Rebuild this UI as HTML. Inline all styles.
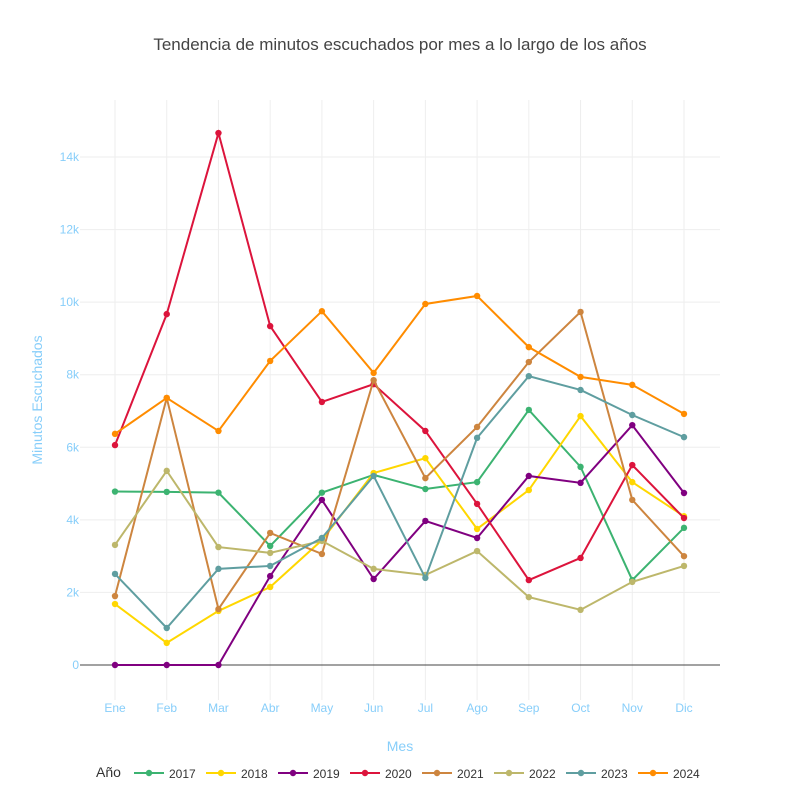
<!DOCTYPE html>
<html><head><meta charset="utf-8"><style>
body{margin:0;background:#fff;font-family:"Liberation Sans",sans-serif}
</style></head><body>
<svg id="chart" width="800" height="800" xmlns="http://www.w3.org/2000/svg">
<rect width="800" height="800" fill="#fff"/>
<text x="400" y="50" text-anchor="middle" font-size="17" fill="#444">Tendencia de minutos escuchados por mes a lo largo de los años</text>
<g id="grid"></g><g id="axes"></g><g id="series"></g><g id="legend"></g>
<text x="42" y="400" text-anchor="middle" font-size="14" fill="#87cefa" transform="rotate(-90 42 400)">Minutos Escuchados</text>
<text x="400" y="751" text-anchor="middle" font-size="14" fill="#87cefa">Mes</text>
</svg>
<script>
const months=["Ene","Feb","Mar","Abr","May","Jun","Jul","Ago","Sep","Oct","Nov","Dic"];
const years=["2017","2018","2019","2020","2021","2022","2023","2024"];
const colors=["#3cb371","#ffd700","#800080","#dc143c","#cd853f","#bdb76b","#5f9ea0","#ff8c00"];
const yTicks=[0,2000,4000,6000,8000,10000,12000,14000];
const yTickLabels=["0","2k","4k","6k","8k","10k","12k","14k"];
const v2017=[4780,4770,4750,3280,4750,5240,4850,5040,7030,5460,2340,3780];
const v2018=[1680,610,1490,2150,3440,5290,5700,3750,4820,6860,5040,4100];
const v2019=[0,0,0,2450,4550,2370,3970,3500,5210,5020,6610,4740];
const v2020=[6060,9670,14660,9340,7250,7740,6450,4440,2340,2950,5510,4050];
const v2021=[1900,7360,1540,3640,3060,7850,5150,6560,8350,9730,4550,3000];
const v2022=[3310,5350,3250,3090,3420,2650,2480,3140,1870,1520,2290,2730];
const v2023=[2510,1020,2650,2730,3500,5210,2400,6260,7960,7580,6890,6280];
const v2024=[6370,7360,6450,8380,9750,8050,9950,10170,8760,7940,7720,6920];
const allSeries=[v2017,v2018,v2019,v2020,v2021,v2022,v2023,v2024];
const NS="http://www.w3.org/2000/svg";
const xS=i=>115+i*(684-115)/11;
const yS=v=>665-v*(665-157)/14000;
function mk(tag,attrs,parent){const e=document.createElementNS(NS,tag);for(const k in attrs)e.setAttribute(k,attrs[k]);parent.appendChild(e);return e;}
const grid=document.getElementById('grid'),axes=document.getElementById('axes'),series=document.getElementById('series'),legend=document.getElementById('legend');
months.forEach((m,i)=>{
 mk('line',{x1:xS(i),x2:xS(i),y1:100,y2:700,stroke:'#eee','stroke-width':1},grid);
 const t=mk('text',{x:xS(i),y:712,'text-anchor':'middle','font-size':12,fill:'#87cefa'},axes);t.textContent=m;
 
 
});
yTicks.forEach((v,i)=>{
 if(v>0)mk('line',{x1:80,x2:720,y1:yS(v),y2:yS(v),stroke:'#eee','stroke-width':1},grid);
 const t=mk('text',{x:79,y:yS(v)+4,'text-anchor':'end','font-size':12,fill:'#87cefa'},axes);t.textContent=yTickLabels[i];
 
 
});
mk('line',{x1:80,x2:720,y1:yS(0),y2:yS(0),stroke:'#444','stroke-width':1},axes);
allSeries.forEach((vals,s)=>{
 const g=mk('g',{},series);
 
 
 mk('polyline',{points:vals.map((v,i)=>xS(i)+','+yS(v)).join(' '),fill:'none',stroke:colors[s],'stroke-width':2},g);
 vals.forEach((v,i)=>{
  const c=mk('circle',{cx:xS(i),cy:yS(v),r:3.2,fill:colors[s]},g);
  
  
 });
});
const lt=mk('text',{x:96,y:777,'font-size':14,fill:'#333'},legend);lt.textContent='Año';


years.forEach((y,s)=>{
 const x0=134+s*72;
 const g=mk('g',{},legend);
 
 
 mk('line',{x1:x0,x2:x0+30,y1:773,y2:773,stroke:colors[s],'stroke-width':2},g);
 mk('circle',{cx:x0+15,cy:773,r:3.2,fill:colors[s]},g);
 const t=mk('text',{x:x0+35,y:778,'font-size':12,fill:'#333'},g);t.textContent=y;
});
</script>
</body></html>
